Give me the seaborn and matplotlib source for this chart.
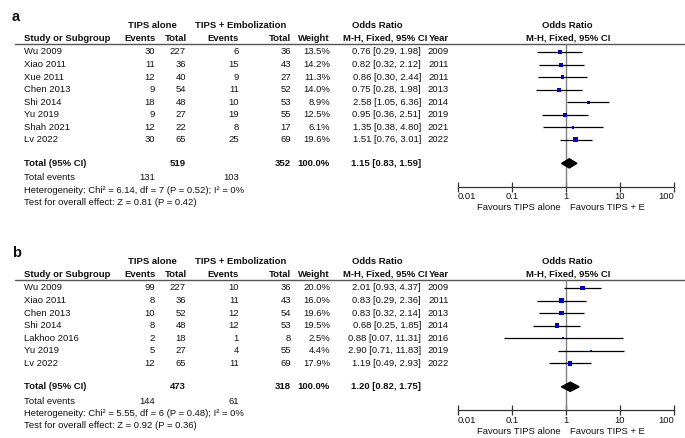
import matplotlib
matplotlib.use('Agg')
import matplotlib.pyplot as plt
import seaborn as sns
import pandas as pd
import numpy as np

# panel a data
studies_a = ["Wu 2009", "Xiao 2011", "Xue 2011", "Chen 2013", "Shi 2014", "Yu 2019", "Shah 2021", "Lv 2022"]
ev_alone_a = [30, 11, 12, 9, 18, 9, 12, 30]
tot_alone_a = [227, 36, 40, 54, 48, 27, 22, 65]
ev_emb_a = [6, 15, 9, 11, 10, 19, 8, 25]
tot_emb_a = [36, 43, 27, 52, 53, 55, 17, 69]
weight_a = [13.5, 14.2, 11.3, 14.0, 8.9, 12.5, 6.1, 19.6]
or_a = [0.76, 0.82, 0.86, 0.75, 2.58, 0.95, 1.35, 1.51]
lo_a = [0.29, 0.32, 0.30, 0.28, 1.05, 0.36, 0.38, 0.76]
hi_a = [1.98, 2.12, 2.44, 1.98, 6.36, 2.51, 4.80, 3.01]
year_a = [2009, 2011, 2011, 2013, 2014, 2019, 2021, 2022]
total_a = {'ev1': 131, 'n1': 519, 'ev2': 103, 'n2': 352, 'or': 1.15, 'lo': 0.83, 'hi': 1.59}
het_a = "Heterogeneity: Chi² = 6.14, df = 7 (P = 0.52); I² = 0%"
test_a = "Test for overall effect: Z = 0.81 (P = 0.42)"

# panel b data
studies_b = ["Wu 2009", "Xiao 2011", "Chen 2013", "Shi 2014", "Lakhoo 2016", "Yu 2019", "Lv 2022"]
ev_alone_b = [99, 8, 10, 8, 2, 5, 12]
tot_alone_b = [227, 36, 52, 48, 18, 27, 65]
ev_emb_b = [10, 11, 12, 12, 1, 4, 11]
tot_emb_b = [36, 43, 54, 53, 8, 55, 69]
weight_b = [20.0, 16.0, 19.6, 19.5, 2.5, 4.4, 17.9]
or_b = [2.01, 0.83, 0.83, 0.68, 0.88, 2.90, 1.19]
lo_b = [0.93, 0.29, 0.32, 0.25, 0.07, 0.71, 0.49]
hi_b = [4.37, 2.36, 2.14, 1.85, 11.31, 11.83, 2.93]
year_b = [2009, 2011, 2013, 2014, 2016, 2019, 2022]
total_b = {'ev1': 144, 'n1': 473, 'ev2': 61, 'n2': 318, 'or': 1.20, 'lo': 0.82, 'hi': 1.75}
het_b = "Heterogeneity: Chi² = 5.55, df = 6 (P = 0.48); I² = 0%"
test_b = "Test for overall effect: Z = 0.92 (P = 0.36)"

axis_ticks = [0.01, 0.1, 1, 10, 100]
axis_labels = ["0.01", "0.1", "1", "10", "100"]

sns.set_style("white")
plt.rcParams['font.family'] = ['Liberation Sans', 'DejaVu Sans']

W, H = 685, 438
FS = 6.8
TXT = '#111111'

fig = plt.figure(figsize=(W / 100, H / 100), dpi=100)
tax = fig.add_axes([0, 0, 1, 1])
tax.set_xlim(0, W)
tax.set_ylim(H, 0)
tax.axis('off')


def t(x, y, s, ha='left', bold=False, size=FS):
    tax.text(x, y, s, ha=ha, va='center', fontsize=size, color=TXT,
             fontweight='bold' if bold else 'normal')


def draw_panel(T, label, df, tot, het, test):
    n = len(df)
    step = 12.55
    rows = 52 + T + np.arange(n) * step
    y_total = rows[-1] + 23.5
    y_axis = y_total + 23.5

    t(12, 17 + T, label, bold=True, size=10.5)
    # headers
    t(152, 26 + T, "TIPS alone", ha='center', bold=True)
    t(241, 26 + T, "TIPS + Embolization", ha='center', bold=True)
    t(377, 26 + T, "Odds Ratio", ha='center', bold=True)
    t(567, 26 + T, "Odds Ratio", ha='center', bold=True)
    y2 = 38.5 + T
    t(24, y2, "Study or Subgroup", bold=True)
    t(156, y2, "Events", ha='right', bold=True)
    t(187, y2, "Total", ha='right', bold=True)
    t(239, y2, "Events", ha='right', bold=True)
    t(291, y2, "Total", ha='right', bold=True)
    t(330, y2, "Weight", ha='right', bold=True)
    t(427, y2, "M-H, Fixed, 95% CI", ha='right', bold=True)
    t(449, y2, "Year", ha='right', bold=True)
    t(568, y2, "M-H, Fixed, 95% CI", ha='center', bold=True)
    tax.plot([15, W], [44 + T, 44 + T], color='#555555', lw=1)

    for y, r in zip(rows, df.itertuples()):
        t(24, y, r.study)
        t(155, y, str(r.ev1), ha='right')
        t(186, y, str(r.n1), ha='right')
        t(239, y, str(r.ev2), ha='right')
        t(291, y, str(r.n2), ha='right')
        t(330, y, f"{r.weight:.1f}%", ha='right')
        t(421, y, f"{r.odds:.2f} [{r.lo:.2f}, {r.hi:.2f}]", ha='right')
        t(449, y, str(r.year), ha='right')

    t(24, y_total, "Total (95% CI)", bold=True)
    t(186, y_total, str(tot['n1']), ha='right', bold=True)
    t(291, y_total, str(tot['n2']), ha='right', bold=True)
    t(330, y_total, "100.0%", ha='right', bold=True)
    t(421, y_total, f"{tot['or']:.2f} [{tot['lo']:.2f}, {tot['hi']:.2f}]", ha='right', bold=True)
    t(24, y_total + 14.5, "Total events")
    t(155, y_total + 14.5, str(tot['ev1']), ha='right')
    t(239, y_total + 14.5, str(tot['ev2']), ha='right')
    t(24, y_total + 27, het)
    t(24, y_total + 39, test)

    # forest plot axes, y in figure pixel units
    top, bot = 44 + T, y_axis
    x0, x1 = 458, 674
    ax = fig.add_axes([x0 / W, 1 - bot / H, (x1 - x0) / W, (bot - top) / H])
    ax.set_xscale('log')
    ax.set_xlim(0.01, 100)
    ax.set_ylim(bot, top)
    ax.axvline(1, color='#808080', lw=1, zorder=1)
    d = df.assign(y=rows)
    ax.hlines(d['y'], d['lo'], d['hi'], color='black', lw=0.9, zorder=2)
    sns.scatterplot(data=d, x='odds', y='y', size='weight', sizes=(0, 12),
                    size_norm=(0, 20), marker='s', color='#0000c8',
                    linewidth=0, legend=False, ax=ax, zorder=3)
    h = 4.6
    ax.fill([tot['lo'], tot['or'], tot['hi'], tot['or']],
            [y_total, y_total - h, y_total, y_total + h], color='black', zorder=3)
    ax.set_xlabel('')
    ax.set_ylabel('')
    ax.set_yticks([])
    ax.minorticks_off()
    ax.set_xticks(axis_ticks)
    ax.set_xticklabels(axis_labels, fontsize=FS, color=TXT)
    lbls = ax.get_xticklabels()
    lbls[0].set_horizontalalignment('left')
    lbls[-1].set_horizontalalignment('right')
    ax.tick_params(axis='x', direction='inout', length=7, width=0.9, pad=0.5,
                   bottom=True, color='#333333')
    for s in ['top', 'left', 'right']:
        ax.spines[s].set_visible(False)
    ax.spines['bottom'].set_color('#333333')
    ax.spines['bottom'].set_linewidth(0.9)
    ax.patch.set_alpha(0)

    t(561, y_axis + 21, "Favours TIPS alone", ha='right')
    t(570, y_axis + 21, "Favours TIPS + E")


df_a = pd.DataFrame({'study': studies_a, 'ev1': ev_alone_a, 'n1': tot_alone_a,
                     'ev2': ev_emb_a, 'n2': tot_emb_a, 'weight': weight_a,
                     'odds': or_a, 'lo': lo_a, 'hi': hi_a, 'year': year_a})
df_b = pd.DataFrame({'study': studies_b, 'ev1': ev_alone_b, 'n1': tot_alone_b,
                     'ev2': ev_emb_b, 'n2': tot_emb_b, 'weight': weight_b,
                     'odds': or_b, 'lo': lo_b, 'hi': hi_b, 'year': year_b})

draw_panel(0, "a", df_a, total_a, het_a, test_a)
draw_panel(236, "b", df_b, total_b, het_b, test_b)

fig.savefig('out.png', dpi=100)
